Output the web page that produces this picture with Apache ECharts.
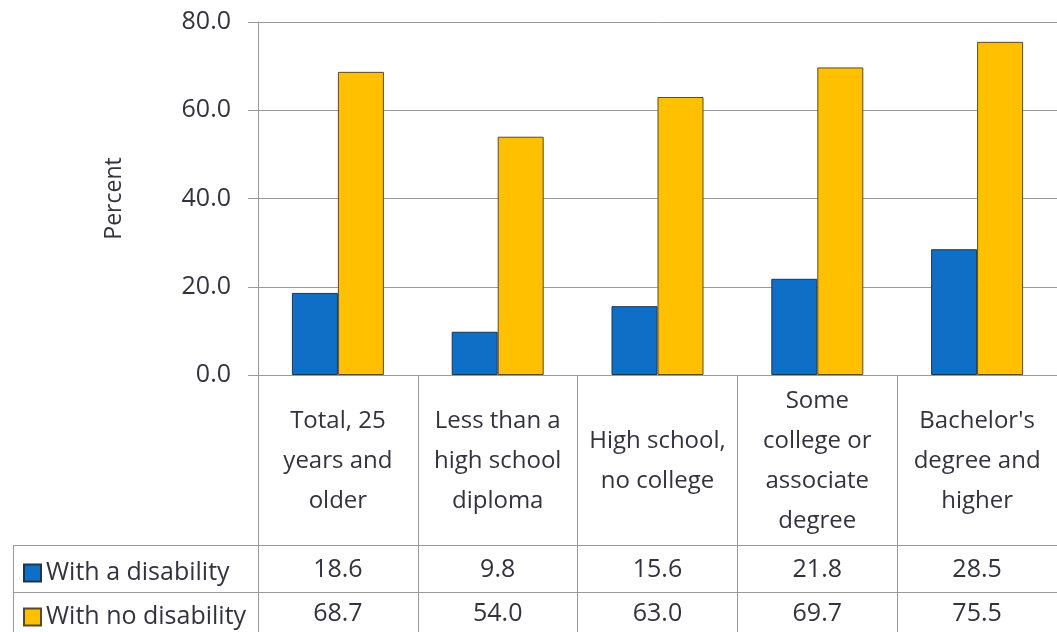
<!DOCTYPE html>
<html>
<head>
<meta charset="utf-8">
<script src="https://cdn.jsdelivr.net/npm/echarts@6/dist/echarts.min.js"></script>
<style>
html,body{margin:0;padding:0;background:#fff;}
#chart{width:1057px;height:632px;}
</style>
</head>
<body>
<div id="chart"></div>
<script>
const categories = [
  "Total, 25\nyears and\nolder",
  "Less than a\nhigh school\ndiploma",
  "High school,\nno college",
  "Some\ncollege or\nassociate\ndegree",
  "Bachelor's\ndegree and\nhigher"
];
const seriesNames = ["With a disability", "With no disability"];
const withDisability = [18.6, 9.8, 15.6, 21.8, 28.5];
const withNoDisability = [68.7, 54.0, 63.0, 69.7, 75.5];
const yTicks = [0, 20, 40, 60, 80];

const FONT = "'Open Sans', 'Noto Sans', sans-serif";
const TXT = '#33333f';
const LINE = '#9a9a9a';

const chart = echarts.init(document.getElementById('chart'), null, {renderer: 'canvas'});
const valueRowAxis = (dataArr, margin) => ({
  type: 'category',
  data: categories,
  position: 'bottom',
  gridIndex: 0,
  axisLine: {show: false},
  axisTick: {show: false},
  splitLine: {show: false},
  axisLabel: {
    interval: 0,
    margin: margin,
    verticalAlign: 'middle',
    fontFamily: FONT,
    fontSize: 25,
    color: TXT,
    formatter: (v, i) => dataArr[i].toFixed(1)
  }
});
const legendRow = (name, top) => ({
  orient: 'vertical',
  left: 18,
  top: top,
  itemWidth: 17,
  itemHeight: 17,
  icon: 'rect',
  selectedMode: false,
  data: [name],
  textStyle: {fontFamily: FONT, fontSize: 25, color: TXT, lineHeight: 26, padding: [0, 0, 0, 0]}
});

chart.setOption({
  animation: false,
  backgroundColor: '#fff',
  grid: {left: 258, right: 0, top: 22, bottom: 257, containLabel: false},
  legend: [legendRow(seriesNames[0], 555), legendRow(seriesNames[1], 599)],
  xAxis: [
    {
      type: 'category',
      data: categories,
      boundaryGap: true,
      axisLine: {show: true, lineStyle: {color: LINE, width: 1}},
      axisTick: {show: true, interval: 0, length: 257, lineStyle: {color: LINE, width: 1}},
      splitLine: {show: false},
      axisLabel: {
        interval: 0,
        margin: 86,
        verticalAlign: 'middle',
        fontFamily: FONT,
        fontSize: 24,
        lineHeight: 40,
        color: TXT
      }
    },
    valueRowAxis(withDisability, 195),
    valueRowAxis(withNoDisability, 239)
  ],
  yAxis: {
    type: 'value',
    min: 0,
    max: 80,
    interval: 20,
    name: 'Percent',
    nameLocation: 'middle',
    nameRotate: 90,
    nameGap: 132,
    nameTextStyle: {fontFamily: FONT, fontSize: 23, color: TXT},
    axisLine: {show: true, lineStyle: {color: LINE, width: 1}},
    axisTick: {show: true, length: 10, lineStyle: {color: LINE, width: 1}},
    splitLine: {show: true, lineStyle: {color: LINE, width: 1}},
    axisLabel: {
      margin: 27,
      fontFamily: FONT,
      fontSize: 25,
      color: TXT,
      formatter: v => yTicks.includes(v) ? v.toFixed(1) : ''
    }
  },
  series: [
    {
      name: seriesNames[0],
      type: 'bar',
      xAxisIndex: 0,
      data: withDisability,
      barWidth: 46,
      barGap: '0%',
      itemStyle: {color: '#0f6fc6', borderColor: '#1e3550', borderWidth: 1}
    },
    {
      name: seriesNames[1],
      type: 'bar',
      xAxisIndex: 0,
      data: withNoDisability,
      barWidth: 46,
      barGap: '0%',
      itemStyle: {color: '#ffc000', borderColor: '#5a4a20', borderWidth: 1}
    }
  ],
  graphic: [
    {type: 'line', silent: true, shape: {x1: 13, y1: 545.5, x2: 1057, y2: 545.5}, style: {stroke: LINE, lineWidth: 1}},
    {type: 'line', silent: true, shape: {x1: 13, y1: 592.5, x2: 1057, y2: 592.5}, style: {stroke: LINE, lineWidth: 1}},
    {type: 'line', silent: true, shape: {x1: 13.5, y1: 545, x2: 13.5, y2: 632}, style: {stroke: LINE, lineWidth: 1}}
  ]
});
</script>
</body>
</html>
